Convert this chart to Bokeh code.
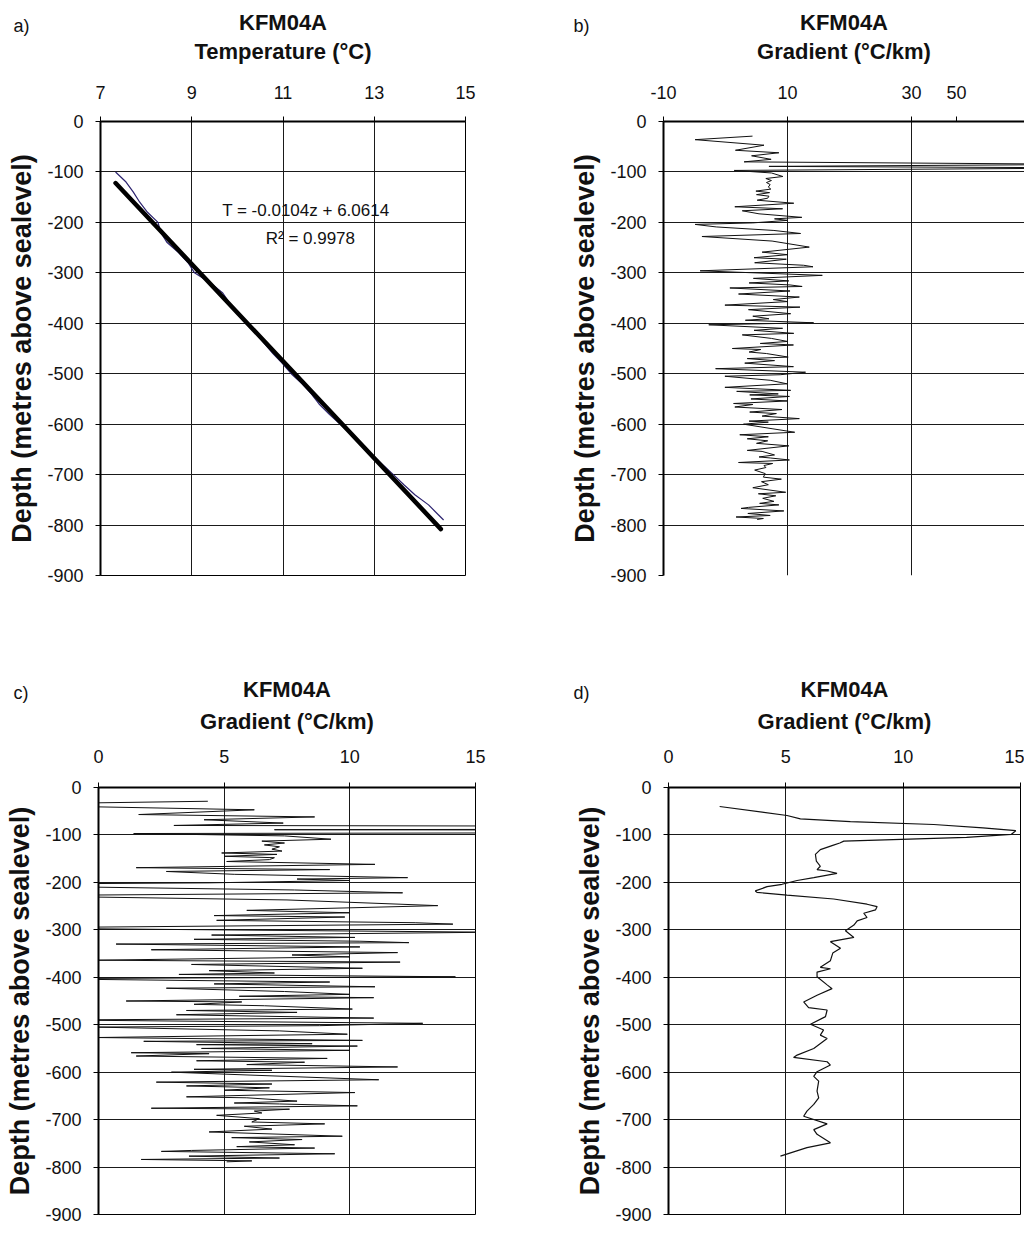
from bokeh.plotting import figure
from bokeh.layouts import column, row
from bokeh.models import FixedTicker, Title, Label, Range1d
from bokeh.embed import file_html
from bokeh.resources import INLINE

FONT = "Liberation Sans"

# ---------------- data ----------------
depth_ticks = [0, -100, -200, -300, -400, -500, -600, -700, -800, -900]
temp_ticks = [7, 9, 11, 13, 15]
grad_ticks_b = [-10, 10, 30]
grad_label_b = {-10: "-10", 10: "10", 30: "30", 37.25: "50"}   # "50" sits where the original prints it
grad_ticks_cd = [0, 5, 10, 15]

# a) measured temperature log
temp_depth = [-100, -120, -140, -160, -180, -200, -220, -240, -260, -280, -300,
              -320, -340, -360, -380, -400, -420, -440, -460, -480, -500, -520,
              -540, -560, -580, -600, -620, -640, -660, -680, -700, -720, -740,
              -760, -780, -790]
temp_value = [7.33, 7.56, 7.72, 7.86, 8.03, 8.26, 8.32, 8.46, 8.71, 8.92, 9.06,
              9.41, 9.68, 9.83, 9.98, 10.18, 10.41, 10.59, 10.78, 10.99, 11.18, 11.42,
              11.62, 11.79, 12.01, 12.25, 12.49, 12.72, 12.95, 13.18, 13.42, 13.65, 13.89,
              14.19, 14.41, 14.52]
# linear fit T = -0.0104z + 6.0614 (end points)
fit_depth = [-122, -808]
fit_value = [7.33, 14.46]

# b) / c) raw gradient (°C/km)
grad_depth = [-29, -36, -47, -57, -62, -68, -75, -80, -85, -89, -92, -97,
              -102, -109, -113, -117, -121, -125, -130, -134, -138, -141, -145, -148,
              -152, -156, -162, -169, -173, -177, -183, -190, -193, -196, -201, -204,
              -209, -216, -222, -228, -237, -249, -259, -264, -270, -273, -280, -285,
              -288, -296, -305, -311, -316, -320, -324, -327, -330, -336, -342, -348,
              -353, -357, -364, -368, -373, -381, -386, -391, -394, -399, -403, -410,
              -414, -420, -423, -430, -436, -440, -443, -450, -452, -457, -460, -467,
              -470, -474, -479, -486, -490, -497, -502, -505, -513, -520, -527, -533,
              -535, -540, -542, -545, -550, -554, -559, -561, -566, -571, -576, -579,
              -584, -589, -594, -596, -600, -609, -616, -621, -625, -629, -633, -638,
              -643, -652, -654, -661, -665, -667, -671, -676, -678, -682, -686, -691,
              -698, -705, -709, -714, -720, -726, -735, -738, -742, -747, -753, -757,
              -760, -765, -767, -772, -777, -781, -784, -787, -789]
grad_value = [4.35, -4.9, 6.2, 1.6, 8.6, 4.2, 7.35, 3.0, 60.0, 7.0, 62.0, 1.4,
              7.4, 9.25, 6.5, 7.4, 6.6, 7.2, 6.9, 7.3, 4.9, 7.1, 5.0, 7.0,
              6.8, 5.1, 11.0, 1.5, 9.2, 2.7, 5.4, 12.3, 7.9, 10.0, 4.4, -4.9,
              -1.5, 7.8, 12.1, -3.8, 7.5, 13.5, 5.9, 10.0, 4.6, 9.8, 4.7, 12.6,
              14.1, -4.1, 15.6, 4.5, 10.2, 3.8, 10.4, 12.35, 0.7, 10.4, 2.1, 11.9,
              7.7, 10.0, -0.1, 12.0, 3.7, 10.5, 4.4, 7.0, 3.2, 14.2, -2.7, 9.2,
              4.6, 11.0, 2.7, 7.4, 10.0, 5.6, 10.95, 1.1, 5.7, 3.8, 6.6, 10.1,
              3.5, 7.9, 3.1, 10.95, -1.6, 12.9, 8.8, -0.1, 7.2, 9.9, -0.1, 10.5,
              1.8, 8.5, 3.9, 10.3, 4.1, 10.0, 1.3, 4.4, 1.5, 9.1, 3.9, 8.2,
              5.9, 11.9, 3.8, 6.9, 2.9, 7.5, 11.15, 2.3, 6.9, 3.5, 6.8, 5.0,
              10.2, 3.5, 5.9, 7.9, 5.4, 7.2, 10.3, 2.1, 7.6, 6.2, 6.5, 4.7,
              6.4, 6.1, 9.0, 5.8, 6.9, 4.4, 9.7, 5.3, 8.1, 6.0, 7.8, 5.5,
              8.6, 3.7, 2.5, 9.4, 3.6, 7.2, 1.7, 6.1, 5.1]

# d) smoothed gradient (°C/km)
smooth_depth = [-40, -59, -66, -72, -78, -85, -91, -99, -105, -113, -117, -122,
                -131, -141, -155, -166, -173, -176, -181, -190, -196, -204, -209,
                -218, -221, -227, -235, -246, -251, -258, -265, -274, -281, -290,
                -302, -316, -325, -339, -349, -365, -379, -382, -389, -399, -416,
                -424, -438, -452, -464, -469, -483, -499, -511, -522, -529, -550,
                -564, -569, -578, -585, -599, -609, -619, -640, -654, -668, -682,
                -693, -709, -721, -731, -749, -759, -777]
smooth_value = [2.18, 5.05, 5.62, 7.75, 11.3, 13.4, 14.8, 14.6, 12.7, 7.47, 7.3, 7.0,
                6.47, 6.26, 6.3, 6.47, 6.33, 6.76, 7.18, 6.19, 5.48, 4.84, 4.2,
                3.7, 3.77, 5.05, 7.04, 8.46, 8.89, 8.82, 8.32, 8.46, 8.04, 7.9,
                7.54, 7.9, 6.9, 7.33, 7.0, 6.9, 6.47, 6.9, 6.33, 6.33, 6.76,
                6.97, 6.33, 5.76, 5.97, 6.76, 6.69, 6.05, 6.61, 6.47, 6.76, 6.19,
                5.48, 5.33, 6.76, 6.9, 6.33, 6.19, 6.4, 6.33, 6.4, 6.19, 5.9,
                5.76, 6.76, 6.19, 6.33, 6.9, 5.9, 4.77]

TXT = "#111111"


def make_panel(letter, xlabel, xr, xticks, width, height, bl, br, bt, bb,
               outline=True, xlabels=None, tick_standoff=18, xlab_standoff=19, k_standoff=2):
    p = figure(width=width, height=height, x_range=Range1d(*xr), y_range=Range1d(-900, 0),
               x_axis_location="above", output_backend="svg", toolbar_location=None,
               min_border_left=bl, min_border_right=br, min_border_top=bt, min_border_bottom=bb,
               background_fill_color="white", border_fill_color="white")
    grid_xt = FixedTicker(ticks=xticks)
    yt = FixedTicker(ticks=depth_ticks)
    if xlabels is None:
        p.xaxis.ticker = grid_xt
        p.xaxis.major_label_overrides = {t: str(t) for t in xticks}
    else:
        p.xaxis.ticker = FixedTicker(ticks=list(xlabels.keys()))
        p.xaxis.major_label_overrides = dict(xlabels)
    p.yaxis.ticker = yt
    p.yaxis.major_label_overrides = {t: str(t) for t in depth_ticks}
    p.xgrid.ticker = grid_xt
    p.ygrid.ticker = yt
    for g in (p.xgrid, p.ygrid):
        g.grid_line_color = "#1a1a1a"
        g.grid_line_width = 1
        g.grid_line_alpha = 1
    for ax in (p.xaxis, p.yaxis):
        ax.axis_line_color = "black"
        ax.axis_line_width = 2
        ax.major_tick_line_color = "black"
        ax.major_tick_out = 5
        ax.major_tick_in = 0
        ax.minor_tick_out = 0
        ax.minor_tick_in = 0
        ax.major_label_text_font = FONT
        ax.major_label_text_font_size = "18px"
        ax.major_label_text_color = TXT
    p.xaxis.major_label_standoff = tick_standoff
    p.yaxis.major_label_standoff = 12
    # x axis title (above the tick labels)
    p.xaxis.axis_label = xlabel
    p.xaxis.axis_label_text_font = FONT
    p.xaxis.axis_label_text_font_size = "22px"
    p.xaxis.axis_label_text_font_style = "bold"
    p.xaxis.axis_label_text_color = TXT
    p.xaxis.axis_label_standoff = xlab_standoff
    # y axis title
    p.yaxis.axis_label = "Depth (metres above sealevel)"
    p.yaxis.axis_label_text_font = FONT
    p.yaxis.axis_label_text_font_size = "27px"
    p.yaxis.axis_label_text_font_style = "bold"
    p.yaxis.axis_label_text_color = TXT
    p.yaxis.axis_label_standoff = 7
    if outline:
        p.outline_line_color = "black"
        p.outline_line_width = 1
    else:
        p.outline_line_color = None
    p.add_layout(Title(text="KFM04A", align="center", text_font=FONT, text_font_size="22px",
                       text_font_style="bold", text_color=TXT, standoff=k_standoff), "above")
    # panel letter, drawn on the same line as the "KFM04A" title
    p.add_layout(Title(text=letter, align="left", offset=13 - bl, text_font=FONT,
                       text_font_size="18px", text_font_style="normal", text_color=TXT,
                       standoff=-(6 + 50 + k_standoff)), "above")
    return p


pa = make_panel("a)", "Temperature (°C)", (7, 15), temp_ticks, 560, 640, 100, 95, 121, 63)
pa.line(temp_value, temp_depth, line_color="#2d2470", line_width=1.2)
pa.line(fit_value, fit_depth, line_color="black", line_width=4.5, line_cap="round")
pa.add_layout(Label(x=11.5, y=-176, text="T = -0.0104z + 6.0614", text_font=FONT,
                    text_font_size="17px", text_color=TXT, text_align="center",
                    text_baseline="middle"))
pa.add_layout(Label(x=11.6, y=-232, text="R² = 0.9978", text_font=FONT,
                    text_font_size="17px", text_color=TXT, text_align="center",
                    text_baseline="middle"))

pb = make_panel("b)", "Gradient (°C/km)", (-10, 48.2), grad_ticks_b, 464, 640, 103, 0, 121, 65,
                outline=False, xlabels=grad_label_b)
pb.line(grad_value, grad_depth, line_color="#111111", line_width=1)

pc = make_panel("c)", "Gradient (°C/km)", (0, 15), grad_ticks_cd, 560, 598, 98, 85, 147, 24,
                tick_standoff=20, xlab_standoff=13, k_standoff=7)
pc.line(grad_value, grad_depth, line_color="#111111", line_width=1)

pd = make_panel("d)", "Gradient (°C/km)", (0, 15), grad_ticks_cd, 464, 598, 108, 4, 144, 24,
                tick_standoff=20, xlab_standoff=13, k_standoff=7)
pd.line(smooth_value, smooth_depth, line_color="#111111", line_width=1.2)

layout = column(row(pa, pb), row(pc, pd))
open("out.html", "w").write(file_html(layout, INLINE))
